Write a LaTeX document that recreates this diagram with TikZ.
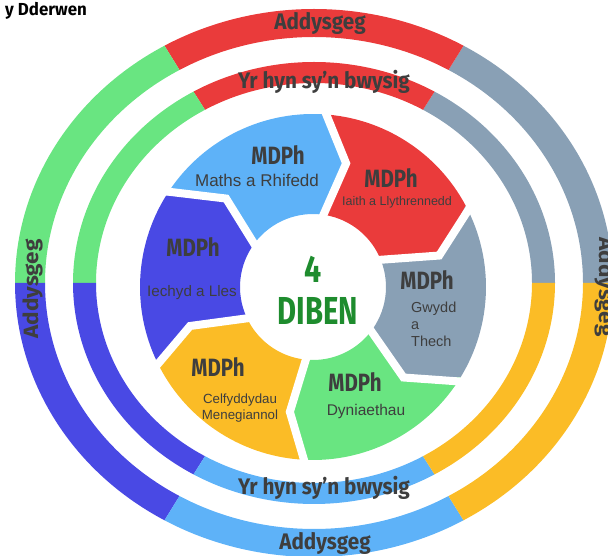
\documentclass[tikz,border=0pt]{standalone}
\usepackage{fontspec}
\setmainfont{Liberation Sans}
\newfontfamily\fira{Fira Sans}
\definecolor{cRed}{RGB}{234,59,59}
\definecolor{cGrey}{RGB}{137,160,181}
\definecolor{cYellow}{RGB}{251,188,38}
\definecolor{cLBlue}{RGB}{94,178,248}
\definecolor{cDBlue}{RGB}{73,73,228}
\definecolor{cGreen}{RGB}{105,229,129}
\definecolor{cTxt}{RGB}{62,62,62}
\definecolor{cDib}{RGB}{30,140,46}
\newcommand\ringseg[7]{\fill[#1] (#2:#4 and #5) arc[start angle=#2, end angle=#3, x radius=#4, y radius=#5] -- (#3:#6 and #7) arc[start angle=#3, end angle=#2, x radius=#6, y radius=#7] -- cycle;}
\begin{document}
\begin{tikzpicture}[x=1pt,y=1pt,
  ringtxt/.style={font=\fira\bfseries\fontsize{22.5}{22.5}\selectfont, text=cTxt, inner sep=0pt, anchor=base, xscale=0.92},
  mdtxt/.style={font=\fira\bfseries\fontsize{25}{25}\selectfont, text=cTxt, inner sep=0pt, anchor=base, xscale=0.82},
  subtxt/.style={text=cTxt, inner sep=0pt, anchor=base},
  sep/.style={white, line width=8pt, line join=miter}]
\useasboundingbox (0,0) rectangle (608,556);
\clip (0,0) rectangle (608,556);
% rings
\begin{scope}[shift={(314,273)}]
  \ringseg{cGrey}{0}{60}{299}{274}{269}{246}
  \ringseg{cRed}{60}{120}{299}{274}{269}{246}
  \ringseg{cGreen}{120}{180}{299}{274}{269}{246}
  \ringseg{cDBlue}{180}{240}{299}{274}{269}{246}
  \ringseg{cLBlue}{240}{300}{299}{274}{269}{246}
  \ringseg{cYellow}{300}{360}{299}{274}{269}{246}
  \ringseg{cGrey}{0}{60}{241}{221}{218}{200}
  \ringseg{cRed}{60}{120}{241}{221}{218}{200}
  \ringseg{cGreen}{120}{180}{241}{221}{218}{200}
  \ringseg{cDBlue}{180}{240}{241}{221}{218}{200}
  \ringseg{cLBlue}{240}{300}{241}{221}{218}{200}
  \ringseg{cYellow}{300}{360}{241}{221}{218}{200}
\end{scope}
% petals
\begin{scope}[shift={(313,269)}]
  \fill[cLBlue] (148:173) arc[start angle=148,end angle=87,radius=173] -- (75:128) -- (84:73) arc[start angle=84,end angle=147,radius=73] -- (134.5:124) -- cycle;
  \fill[cRed] (87:173) arc[start angle=87,end angle=28,radius=173] -- (14:130) -- (24.5:73) arc[start angle=24.5,end angle=84,radius=73] -- (75:128) -- cycle;
  \fill[cGrey] (28:173) arc[start angle=28,end angle=-31.5,radius=173] -- (-45:128) -- (-34.5:73) arc[start angle=-34.5,end angle=24.5,radius=73] -- (14:130) -- cycle;
  \fill[cGreen] (-31.5:173) arc[start angle=-31.5,end angle=-92,radius=173] -- (-100.5:127) -- (-94:73) arc[start angle=-94,end angle=-34.5,radius=73] -- (-45:128) -- cycle;
  \fill[cYellow] (-92:173) arc[start angle=-92,end angle=-152.4,radius=173] -- (-162.4:129) -- (-152:73) arc[start angle=-152,end angle=-94,radius=73] -- (-100.5:127) -- cycle;
  \fill[cDBlue] (207.6:173) arc[start angle=207.6,end angle=148,radius=173] -- (134.5:124) -- (147:73) arc[start angle=147,end angle=208,radius=73] -- (197.6:129) -- cycle;
  \draw[sep] (148:182) -- (134.5:124) -- (147:64);
  \draw[sep] (87:182) -- (75:128) -- (84:64);
  \draw[sep] (28:182) -- (14:130) -- (24.5:64);
  \draw[sep] (-31.5:182) -- (-45:128) -- (-34.5:64);
  \draw[sep] (-92:182) -- (-100.5:127) -- (-94:64);
  \draw[sep] (-152.4:182) -- (-162.4:129) -- (-152:64);
  \fill[white] (0,0) circle[radius=71];
\end{scope}
% title
\node[font=\fira\bfseries\fontsize{17.4}{17.4}\selectfont, text=black, inner sep=0pt, anchor=base west, xscale=0.97] (title) at (5,540) {y Dderwen};
% ring texts
\node[ringtxt] (ot) at (320,526.5) {Addysgeg};
\node[ringtxt] (it) at (324,467.5) {Yr hyn sy’n bwysig};
\node[ringtxt] (ib) at (324,61) {Yr hyn sy’n bwysig};
\node[ringtxt] (ob) at (325,6) {Addysgeg};
\node[ringtxt, rotate=90] (ol) at (38,267) {Addysgeg};
\node[ringtxt, rotate=-90] (or) at (599,269) {Addysgeg};
% centre
\node[font=\fira\bfseries\fontsize{38}{38}\selectfont, text=cDib, inner sep=0pt, anchor=base, xscale=0.8] (four) at (313,273) {4};
\node[font=\fira\bfseries\fontsize{39}{39}\selectfont, text=cDib, inner sep=0pt, anchor=base, xscale=0.75] (diben) at (318,231) {DIBEN};
% petal texts
\node[mdtxt] (m1) at (278,391) {MDPh};
\node[subtxt, font=\fontsize{17}{17}\selectfont] (s1) at (257,369) {Maths a Rhifedd};
\node[mdtxt] (m2) at (391,368) {MDPh};
\node[subtxt, font=\fontsize{12.5}{12.5}\selectfont] (s2) at (397,350) {Iaith a Llythrennedd};
\node[mdtxt] (m3) at (427,266) {MDPh};
\node[subtxt, anchor=base west, font=\fontsize{14.5}{14.5}\selectfont] (s3a) at (411,243) {Gwydd};
\node[subtxt, anchor=base west, font=\fontsize{14.5}{14.5}\selectfont] (s3b) at (411,226) {a};
\node[subtxt, anchor=base west, font=\fontsize{14.5}{14.5}\selectfont] (s3c) at (411,209) {Thech};
\node[mdtxt] (m4) at (355,164) {MDPh};
\node[subtxt, font=\fontsize{15.5}{15.5}\selectfont] (s4) at (366,140) {Dyniaethau};
\node[mdtxt] (m5) at (218,179) {MDPh};
\node[subtxt, font=\fontsize{13.3}{13.3}\selectfont] (s5a) at (240,152) {Celfyddydau};
\node[subtxt, font=\fontsize{13.3}{13.3}\selectfont] (s5b) at (240,136) {Menegiannol};
\node[mdtxt] (m6) at (193,299) {MDPh};
\node[subtxt, font=\fontsize{15.2}{15.2}\selectfont] (s6) at (192,259) {Iechyd a Lles};
\end{tikzpicture}
\end{document}
